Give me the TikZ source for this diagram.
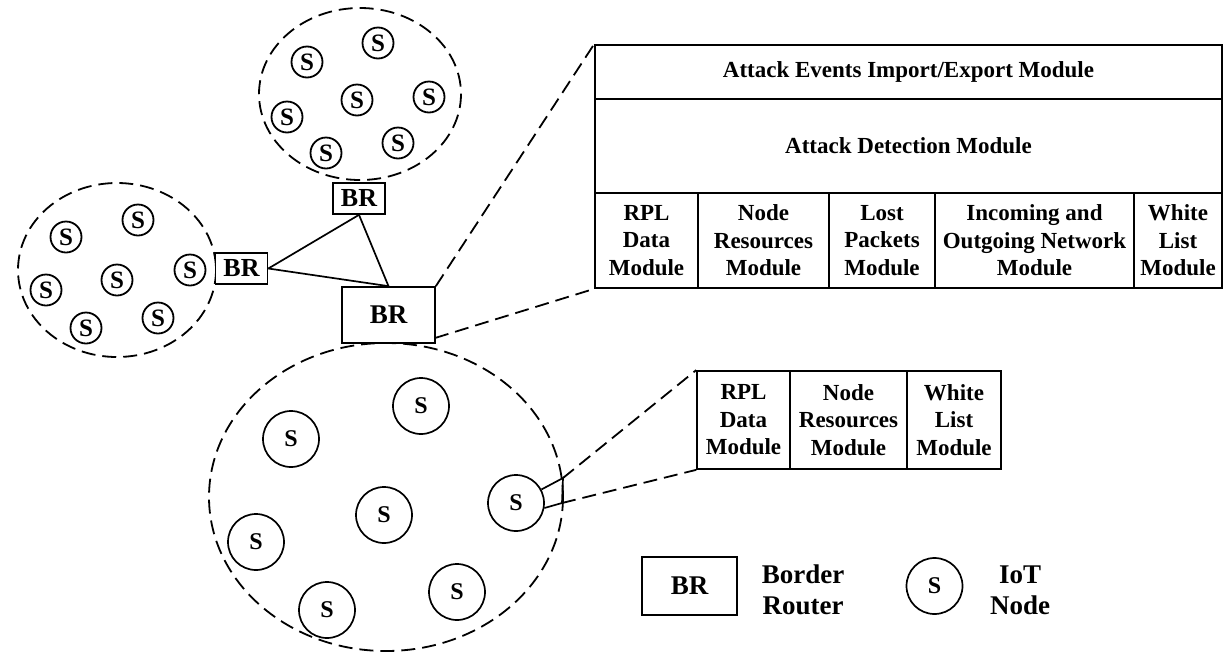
\documentclass[tikz,border=0pt]{standalone}
\usepackage{fontspec}
\setmainfont{Liberation Serif}
\begin{document}
\tikzset{
  zone/.style={draw, line width=1.8pt, dash pattern=on 14pt off 7pt},
  zoomline/.style={line width=1.8pt, dash pattern=on 14pt off 7pt},
  link/.style={line width=1.7pt},
  sn/.style={circle, draw, line width=1.8pt, minimum size=31pt, inner sep=0pt,
    font=\fontsize{25}{25}\selectfont\bfseries},
  bn/.style={circle, draw, line width=1.7pt, minimum size=56pt, inner sep=0pt,
    font=\fontsize{24}{24}\selectfont\bfseries},
  brsmall/.style={draw, line width=1.7pt, minimum width=52pt, minimum height=31pt,
    inner sep=0pt, font=\fontsize{26}{26}\selectfont\bfseries},
  brbig/.style={draw, line width=1.7pt, minimum width=93pt, minimum height=56pt,
    inner sep=0pt, font=\fontsize{27}{27}\selectfont\bfseries},
  cell/.style={draw, line width=1.7pt, inner sep=0pt, align=center,
    font=\fontsize{23}{27.5}\selectfont\bfseries},
  legtext/.style={align=center, font=\fontsize{27}{31}\selectfont\bfseries}
}
\begin{tikzpicture}[x=1pt, y=-1pt]
\useasboundingbox (0,0) rectangle (1226,654);

% ---- network zones ----
\draw[zone] (360,94) ellipse [x radius=101, y radius=86];
\draw[zone] (117,270) ellipse [x radius=99, y radius=87];
\draw[zone] (386,497) ellipse [x radius=177, y radius=154];

% upper cluster
\node[sn] (t1) at (307,62) {S};
\node[sn] (t2) at (378,43) {S};
\node[sn] (t3) at (429,97) {S};
\node[sn] (t4) at (357,100) {S};
\node[sn] (t5) at (287,117) {S};
\node[sn] (t6) at (398,143) {S};
\node[sn] (t7) at (326,153) {S};

% left cluster
\node[sn] (l1) at (66,237) {S};
\node[sn] (l2) at (138,220) {S};
\node[sn] (l3) at (190,270) {S};
\node[sn] (l4) at (117,280) {S};
\node[sn] (l5) at (46,290) {S};
\node[sn] (l6) at (158,318) {S};
\node[sn] (l7) at (86,328) {S};

% lower cluster
\node[bn] (s1) at (421,406) {S};
\node[bn] (s2) at (291,439) {S};
\node[bn] (s3) at (516,503) {S};
\node[bn] (s4) at (384,515) {S};
\node[bn] (s5) at (256,542) {S};
\node[bn] (s6) at (457,592) {S};
\node[bn] (s7) at (327,610) {S};

% ---- border routers ----
\node[brsmall, fill=white] (tbr) at (359,198.5) {BR};
\node[brsmall, fill=white] (lbr) at (241.5,268.5) {BR};
\node[brbig, fill=white] (bbr) at (388.5,315) {BR};

\draw[link] (lbr.east) -- (tbr.south);
\draw[link] (lbr.east) -- (bbr.north);
\draw[link] (tbr.south) -- (bbr.north);

% ---- border router modules ----
\node[cell, minimum width=627pt, minimum height=54pt] (ev) at (908.5,72)
  {Attack Events Import/Export Module};
\node[cell, minimum width=627pt, minimum height=94pt] (det) at (908.5,146)
  {Attack Detection Module};
\node[cell, minimum width=103pt, minimum height=95pt] (c1) at (646.5,240.5)
  {RPL\\Data\\Module};
\node[cell, minimum width=131pt, minimum height=95pt] (c2) at (763.5,240.5)
  {Node\\Resources\\Module};
\node[cell, minimum width=106pt, minimum height=95pt] (c3) at (882,240.5)
  {Lost\\Packets\\Module};
\node[cell, minimum width=199pt, minimum height=95pt] (c4) at (1034.5,240.5)
  {Incoming and\\Outgoing Network\\Module};
\node[cell, minimum width=88pt, minimum height=95pt] (c5) at (1178,240.5)
  {White\\List\\Module};

\coordinate (bbrlow) at (435,338);
\draw[zoomline] (bbr.north east) -- (ev.north west);
\draw[zoomline] (bbrlow) -- (c1.south west);

% ---- IoT node modules ----
\node[cell, minimum width=93pt, minimum height=98pt] (m1) at (743.5,420)
  {RPL\\Data\\Module};
\node[cell, minimum width=117pt, minimum height=98pt] (m2) at (848.5,420)
  {Node\\Resources\\Module};
\node[cell, minimum width=94pt, minimum height=98pt] (m3) at (954,420)
  {White\\List\\Module};

\coordinate (kb) at (563,478);
\coordinate (kc) at (562,503);
\draw[link] (s3.28) -- (kb) -- (kc) -- (s3.-10);
\draw[zoomline] (kb) -- (m1.north west);
\draw[zoomline] (kc) -- (m1.south west);

% ---- legend ----
\node[brbig, minimum width=95pt, minimum height=58pt] (lgbr) at (689.5,586) {BR};
\node[legtext] (lgbrt) at (803,590) {Border\\Router};
\node[bn] (lgs) at (934.5,586) {S};
\node[legtext] (lgst) at (1020,590) {IoT\\Node};
\end{tikzpicture}
\end{document}
